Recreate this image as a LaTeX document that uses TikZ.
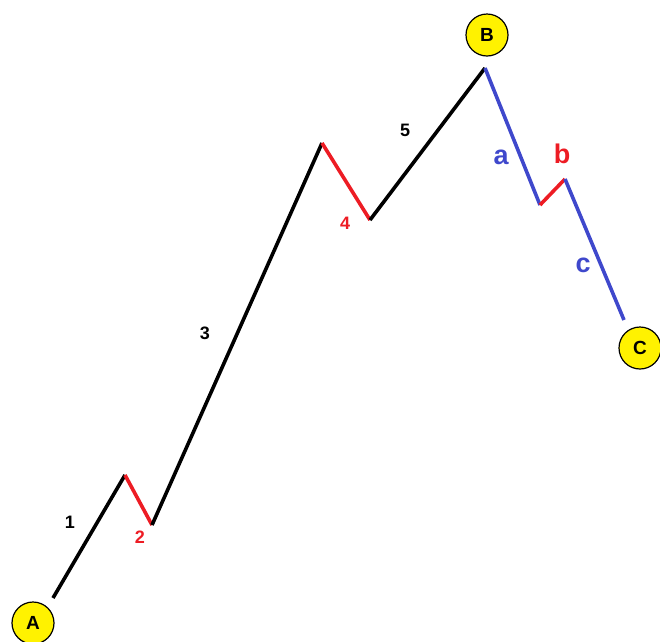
\documentclass[tikz,border=0pt]{standalone}
\usepackage{fontspec}
\setmainfont{Liberation Sans}
\usepackage{xcolor}
\definecolor{wred}{RGB}{237,28,36}
\definecolor{wblue}{RGB}{63,72,204}
\definecolor{wyellow}{RGB}{255,242,0}

\begin{document}
\begin{tikzpicture}[x=1pt, y=-1pt,
    pt/.style={draw=black, fill=wyellow, circle, minimum size=42pt, inner sep=0pt,
               line width=1.2pt, font=\fontsize{19}{19}\selectfont\bfseries},
    up/.style={line width=3.6pt, black},
    dn/.style={line width=3.6pt, wred},
    cr/.style={line width=3.6pt, wblue},
    num/.style={font=\fontsize{18}{18}\selectfont\bfseries},
    let/.style={font=\fontsize{27}{27}\selectfont\bfseries}]
    \useasboundingbox (0,0) rectangle (660,641);
    % wave points
    \coordinate (w0) at (53,598);
    \coordinate (w1) at (125,475);
    \coordinate (w2) at (152,525);
    \coordinate (w3) at (322,143);
    \coordinate (w4) at (370,220);
    \coordinate (w5) at (485,68);
    \coordinate (wa) at (540,205);
    \coordinate (wb) at (565,179);
    \coordinate (wc) at (624,320);
    % end points
    \node[pt] (A) at (33,623) {A};
    \node[pt] (B) at (487,35) {B};
    \node[pt] (C) at (640,348) {C};
    % impulse
    \draw[up] (w0) -- (w1);
    \draw[dn] (w1) -- (w2);
    \draw[up] (w2) -- (w3);
    \draw[dn] (w3) -- (w4);
    \draw[up] (w4) -- (w5);
    % correction
    \draw[cr] (w5) -- (wa);
    \draw[dn] (wa) -- (wb);
    \draw[cr] (wb) -- (wc);
    % labels
    \node[num] (l1) at (70,522) {1};
    \node[num, wred] (l2) at (140,537) {2};
    \node[num] (l3) at (205,333) {3};
    \node[num, wred] (l4) at (345,223) {4};
    \node[num] (l5) at (405,130) {5};
    \node[let, wblue] (la) at (501,157) {a};
    \node[let, wred] (lb) at (562,154) {b};
    \node[let, wblue] (lc) at (583,265) {c};
  \end{tikzpicture}
\end{document}
